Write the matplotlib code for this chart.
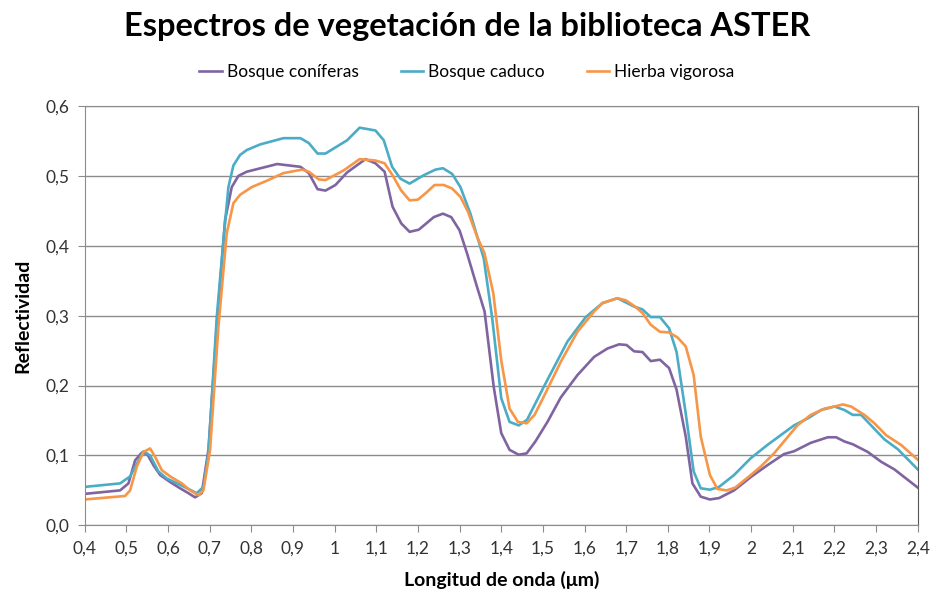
import matplotlib
matplotlib.use("Agg")
import matplotlib.pyplot as plt
from matplotlib.ticker import MultipleLocator, FuncFormatter

plt.rcParams["font.family"] = ["Lato", "DejaVu Sans"]

# Bosque coníferas
x_conif = [0.40, 0.485, 0.505, 0.521, 0.537, 0.550, 0.565, 0.581, 0.605, 0.629, 0.649,
           0.665, 0.681, 0.697, 0.717, 0.737, 0.753, 0.769, 0.789, 0.829, 0.862, 0.918,
           0.938, 0.959, 0.978, 1.002, 1.030, 1.074, 1.098, 1.120, 1.139, 1.160, 1.180,
           1.202, 1.238, 1.260, 1.280, 1.300, 1.318, 1.342, 1.360, 1.382, 1.400, 1.420,
           1.442, 1.461, 1.482, 1.511, 1.543, 1.583, 1.623, 1.655, 1.683, 1.701, 1.719,
           1.739, 1.759, 1.781, 1.803, 1.821, 1.843, 1.859, 1.879, 1.901, 1.923, 1.959,
           1.999, 2.039, 2.079, 2.103, 2.143, 2.184, 2.204, 2.224, 2.244, 2.280, 2.312,
           2.344, 2.400]
y_conif = [0.045, 0.050, 0.060, 0.093, 0.104, 0.102, 0.086, 0.072, 0.062, 0.053, 0.046,
           0.040, 0.046, 0.108, 0.284, 0.437, 0.484, 0.500, 0.506, 0.512, 0.517, 0.513,
           0.504, 0.481, 0.479, 0.487, 0.505, 0.524, 0.518, 0.506, 0.456, 0.432, 0.420,
           0.423, 0.441, 0.446, 0.441, 0.422, 0.389, 0.341, 0.306, 0.198, 0.132, 0.108,
           0.101, 0.103, 0.120, 0.148, 0.183, 0.215, 0.241, 0.253, 0.259, 0.258, 0.249,
           0.248, 0.235, 0.237, 0.225, 0.194, 0.127, 0.060, 0.041, 0.037, 0.039, 0.050,
           0.069, 0.086, 0.102, 0.106, 0.118, 0.126, 0.126, 0.120, 0.116, 0.105, 0.091,
           0.080, 0.054]

# Bosque caduco
x_caduco = [0.40, 0.485, 0.509, 0.541, 0.557, 0.577, 0.597, 0.629, 0.669, 0.685, 0.697,
            0.717, 0.733, 0.745, 0.757, 0.773, 0.789, 0.821, 0.877, 0.918, 0.938, 0.959,
            0.978, 1.030, 1.060, 1.098, 1.118, 1.138, 1.158, 1.180, 1.214, 1.242, 1.260,
            1.282, 1.302, 1.326, 1.358, 1.378, 1.400, 1.420, 1.442, 1.462, 1.502, 1.559,
            1.603, 1.643, 1.679, 1.719, 1.739, 1.759, 1.781, 1.803, 1.821, 1.843, 1.862,
            1.879, 1.901, 1.923, 1.959, 1.999, 2.039, 2.071, 2.103, 2.136, 2.168, 2.200,
            2.224, 2.244, 2.264, 2.288, 2.320, 2.352, 2.400]
y_caduco = [0.055, 0.060, 0.070, 0.106, 0.100, 0.077, 0.067, 0.058, 0.046, 0.055, 0.103,
            0.298, 0.408, 0.484, 0.515, 0.530, 0.537, 0.545, 0.554, 0.554, 0.547, 0.532,
            0.532, 0.551, 0.569, 0.565, 0.551, 0.513, 0.496, 0.489, 0.501, 0.509, 0.511,
            0.503, 0.484, 0.446, 0.382, 0.298, 0.182, 0.148, 0.143, 0.151, 0.198, 0.263,
            0.298, 0.318, 0.325, 0.313, 0.309, 0.298, 0.298, 0.282, 0.248, 0.160, 0.077,
            0.053, 0.051, 0.055, 0.072, 0.096, 0.115, 0.129, 0.143, 0.153, 0.165, 0.170,
            0.165, 0.158, 0.158, 0.143, 0.123, 0.109, 0.080]

# Hierba vigorosa
x_hierba = [0.40, 0.497, 0.509, 0.525, 0.541, 0.557, 0.569, 0.585, 0.605, 0.633, 0.653,
            0.673, 0.685, 0.701, 0.721, 0.741, 0.757, 0.773, 0.801, 0.837, 0.877, 0.922,
            0.938, 0.962, 0.978, 1.022, 1.060, 1.098, 1.120, 1.139, 1.160, 1.180, 1.200,
            1.220, 1.240, 1.262, 1.282, 1.302, 1.320, 1.342, 1.360, 1.381, 1.400, 1.420,
            1.440, 1.461, 1.480, 1.502, 1.543, 1.583, 1.623, 1.643, 1.679, 1.699, 1.719,
            1.739, 1.759, 1.781, 1.803, 1.823, 1.843, 1.862, 1.879, 1.901, 1.919, 1.941,
            1.962, 1.999, 2.023, 2.055, 2.083, 2.111, 2.143, 2.176, 2.200, 2.220, 2.240,
            2.272, 2.296, 2.324, 2.360, 2.400]
y_hierba = [0.037, 0.042, 0.050, 0.084, 0.105, 0.110, 0.098, 0.079, 0.070, 0.060, 0.050,
            0.043, 0.050, 0.108, 0.284, 0.418, 0.461, 0.473, 0.484, 0.493, 0.504, 0.509,
            0.506, 0.495, 0.494, 0.508, 0.524, 0.522, 0.518, 0.501, 0.479, 0.465, 0.466,
            0.476, 0.487, 0.487, 0.482, 0.470, 0.449, 0.413, 0.389, 0.332, 0.236, 0.167,
            0.148, 0.146, 0.158, 0.184, 0.234, 0.277, 0.306, 0.318, 0.325, 0.322, 0.314,
            0.304, 0.287, 0.277, 0.276, 0.269, 0.256, 0.215, 0.127, 0.072, 0.052, 0.050,
            0.054, 0.072, 0.084, 0.103, 0.123, 0.143, 0.158, 0.167, 0.170, 0.173, 0.170,
            0.158, 0.146, 0.129, 0.115, 0.094]

SERIES = [
    ("Bosque coníferas", x_conif, y_conif, "#8064A2"),
    ("Bosque caduco", x_caduco, y_caduco, "#4BACC6"),
    ("Hierba vigorosa", x_hierba, y_hierba, "#F79646"),
]

fig = plt.figure(figsize=(9.34, 5.99), dpi=100)
ax = fig.add_axes([0.0907, 0.123, 0.8919, 0.700])

for name, xs, ys, c in SERIES:
    ax.plot(xs, ys, color=c, linewidth=1.9, label=name, solid_joinstyle="round")

ax.set_xlim(0.4, 2.4)
ax.set_ylim(0, 0.6)
ax.xaxis.set_major_locator(MultipleLocator(0.1))
ax.yaxis.set_major_locator(MultipleLocator(0.1))
ax.xaxis.set_major_formatter(FuncFormatter(lambda v, p: f"{round(v, 1):g}".replace(".", ",")))
ax.yaxis.set_major_formatter(FuncFormatter(lambda v, p: f"{v:.1f}".replace(".", ",")))
ax.grid(axis="y", color="#8C8C8C", linewidth=1.0)
ax.set_axisbelow(True)
for s in ["left", "bottom", "top"]:
    ax.spines[s].set_color("#8C8C8C")
ax.spines["right"].set_color("#555555")
ax.tick_params(axis="both", direction="out", length=5, color="#8C8C8C",
               labelsize=12.5, labelcolor="#333333", pad=6)

ax.set_xlabel("Longitud de onda (μm)", fontsize=14, fontweight="bold", labelpad=10)
ax.set_ylabel("Reflectividad", fontsize=14, fontweight="bold", labelpad=10)

fig.suptitle("Espectros de vegetación de la biblioteca ASTER", fontsize=23.5,
             fontweight="bold", x=0.5, y=0.98)
fig.legend(loc="center", bbox_to_anchor=(0.5, 0.88), ncol=3, frameon=False,
           fontsize=12.5, handlelength=1.3, handletextpad=0.3, columnspacing=2.4)

fig.savefig("out.png", dpi=100, facecolor="white")
